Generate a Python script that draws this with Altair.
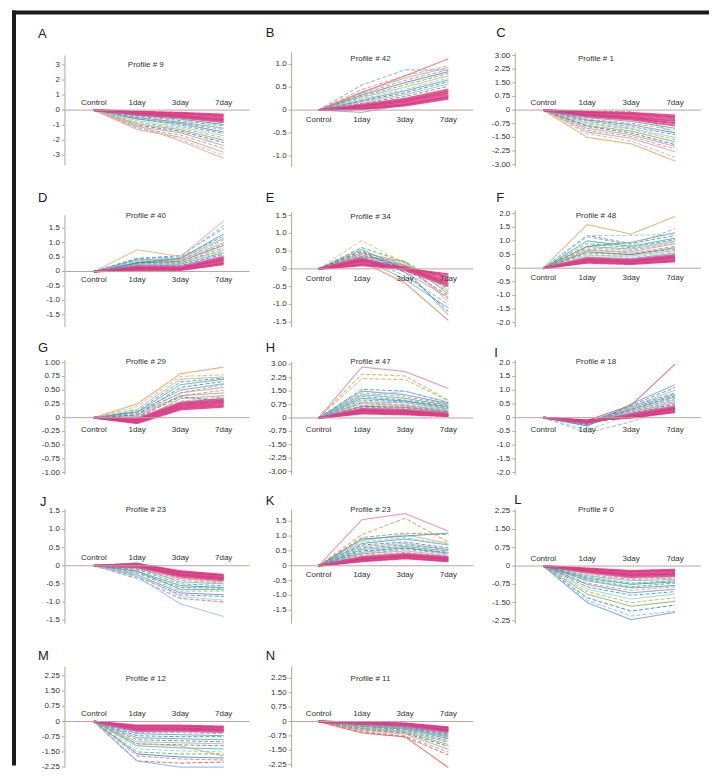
import altair as alt
import pandas as pd

FONT = "Liberation Sans"
TIMEPOINTS = ["Control", "1day", "3day", "7day"]
LETTERS = list("ABCDEFGHIJKLMN")
TITLES = ["Profile # 9", "Profile # 42", "Profile # 1", "Profile # 40", "Profile # 34",
          "Profile # 48", "Profile # 29", "Profile # 47", "Profile # 18", "Profile # 23",
          "Profile # 23", "Profile # 0", "Profile # 12", "Profile # 11"]

# log-ratio values at 1day, 3day, 7day (Control is 0 for every gene)
PROFILE_A = [
    [-0.10, -0.18, -0.30], [-0.14, -0.24, -0.40], [-0.18, -0.30, -0.50], [-0.22, -0.38, -0.60],
    [-0.26, -0.44, -0.70], [-0.30, -0.50, -0.80], [-0.35, -0.60, -0.95], [-0.40, -0.70, -1.05],
    [-0.50, -0.80, -1.20], [-0.45, -0.85, -1.30], [-0.60, -0.90, -1.45], [-0.55, -1.00, -1.55],
    [-0.70, -1.10, -1.70], [-0.80, -1.20, -1.85], [-0.90, -1.30, -2.00], [-1.00, -1.40, -2.15],
    [-1.10, -1.50, -2.35], [-1.20, -1.65, -2.55], [-1.30, -1.80, -2.80], [-1.15, -1.95, -3.00],
    [-1.00, -2.05, -3.20]]
PROFILE_B = [
    [0.02, 0.10, 0.25], [0.04, 0.13, 0.29], [0.06, 0.16, 0.33], [0.08, 0.19, 0.37],
    [0.10, 0.22, 0.41], [0.12, 0.25, 0.45], [-0.05, 0.12, 0.30], [0.15, 0.30, 0.52],
    [0.18, 0.34, 0.57], [0.20, 0.38, 0.62], [0.22, 0.42, 0.66], [0.25, 0.45, 0.70],
    [0.28, 0.50, 0.75], [0.30, 0.55, 0.80], [0.33, 0.60, 0.84], [0.36, 0.65, 0.88],
    [0.40, 0.70, 0.93], [0.45, 0.75, 0.97], [0.55, 0.88, 0.88], [0.38, 0.75, 1.12]]
PROFILE_C = [
    [-0.10, -0.15, -0.30], [-0.15, -0.22, -0.40], [-0.20, -0.30, -0.50], [-0.25, -0.38, -0.60],
    [-0.30, -0.45, -0.72], [-0.35, -0.52, -0.85], [-0.42, -0.62, -1.00], [-0.50, -0.72, -1.10],
    [-0.55, -0.80, -1.25], [-0.62, -0.90, -1.35], [-0.70, -1.00, -1.50], [-0.75, -1.05, -1.62],
    [-0.85, -1.15, -1.75], [-0.90, -1.25, -1.90], [-1.00, -1.35, -2.00], [-1.10, -1.45, -2.15],
    [-1.20, -1.55, -2.30], [-0.05, -0.10, -1.30], [-1.30, -1.70, -2.60], [-1.50, -1.85, -2.80]]
PROFILE_D = [
    [0.05, 0.05, 0.25], [0.08, 0.07, 0.30], [0.10, 0.09, 0.35], [0.12, 0.11, 0.40],
    [0.15, 0.13, 0.45], [0.18, 0.15, 0.50], [0.20, 0.20, 0.55], [0.22, 0.20, 0.60],
    [0.25, 0.25, 0.65], [0.22, 0.28, 0.70], [0.30, 0.30, 0.75], [0.28, 0.30, 0.82],
    [0.30, 0.35, 0.90], [0.35, 0.35, 0.95], [0.40, 0.40, 1.00], [0.35, 0.40, 1.10],
    [0.40, 0.45, 1.15], [0.45, 0.50, 1.22], [0.30, 0.45, 1.30], [0.45, 0.55, 1.50],
    [0.35, 0.50, 1.60], [0.75, 0.52, 1.75]]
PROFILE_E = [
    [0.10, 0.00, -0.15], [0.14, 0.03, -0.22], [0.18, 0.05, -0.30], [0.22, 0.02, -0.36],
    [0.26, 0.00, -0.42], [0.30, -0.04, -0.48], [0.25, 0.10, -0.50], [0.35, 0.10, -0.55],
    [0.30, 0.15, -0.60], [0.40, 0.10, -0.65], [0.35, 0.20, -0.70], [0.45, 0.00, -0.75],
    [0.40, -0.10, -0.80], [0.50, 0.10, -0.85], [0.45, 0.20, -0.92], [0.35, -0.20, -1.00],
    [0.30, -0.30, -1.10], [0.50, -0.10, -1.20], [0.55, 0.00, -1.30], [0.60, 0.20, -0.50],
    [0.80, 0.15, -0.60], [0.20, -0.40, -1.45]]
PROFILE_F = [
    [0.20, 0.15, 0.25], [0.24, 0.19, 0.29], [0.27, 0.22, 0.33], [0.30, 0.25, 0.38],
    [0.33, 0.28, 0.43], [0.36, 0.31, 0.48], [0.40, 0.35, 0.55], [0.50, 0.40, 0.60],
    [0.45, 0.45, 0.65], [0.55, 0.50, 0.70], [0.60, 0.50, 0.75], [0.70, 0.55, 0.80],
    [0.65, 0.60, 0.90], [0.75, 0.65, 0.95], [0.80, 0.70, 1.00], [0.90, 0.75, 1.05],
    [1.00, 0.80, 1.10], [1.20, 0.90, 1.20], [0.80, 0.95, 1.30], [1.15, 0.85, 1.45],
    [1.20, 1.20, 1.25], [1.60, 1.25, 1.90]]
PROFILE_G = [
    [-0.10, 0.15, 0.20], [-0.08, 0.18, 0.23], [-0.06, 0.20, 0.26], [-0.05, 0.22, 0.28],
    [-0.03, 0.25, 0.31], [-0.02, 0.27, 0.34], [-0.05, 0.28, 0.36], [0.00, 0.30, 0.38],
    [-0.08, 0.35, 0.40], [0.00, 0.38, 0.30], [0.02, 0.40, 0.45], [0.05, 0.40, 0.50],
    [0.05, 0.45, 0.55], [0.08, 0.45, 0.60], [0.10, 0.50, 0.62], [0.05, 0.55, 0.66],
    [0.10, 0.60, 0.70], [0.12, 0.65, 0.72], [0.15, 0.70, 0.74], [0.20, 0.75, 0.78],
    [0.25, 0.80, 0.92]]
PROFILE_H = [
    [0.25, 0.20, 0.10], [0.30, 0.25, 0.12], [0.35, 0.30, 0.15], [0.40, 0.35, 0.18],
    [0.45, 0.40, 0.21], [0.50, 0.45, 0.25], [0.55, 0.50, 0.30], [0.60, 0.55, 0.32],
    [0.65, 0.60, 0.35], [0.70, 0.65, 0.40], [0.80, 0.70, 0.42], [0.85, 0.75, 0.45],
    [0.90, 0.85, 0.50], [1.00, 0.90, 0.55], [1.10, 0.95, 0.60], [1.20, 1.00, 0.65],
    [1.30, 1.10, 0.70], [1.40, 1.20, 0.75], [1.50, 1.30, 0.80], [1.60, 1.50, 0.85],
    [1.20, 1.50, 0.90], [2.20, 2.15, 0.95], [2.45, 2.35, 1.00], [2.85, 2.60, 1.65]]
PROFILE_I = [
    [-0.10, 0.00, 0.20], [-0.12, 0.02, 0.23], [-0.14, 0.05, 0.27], [-0.16, 0.07, 0.31],
    [-0.18, 0.10, 0.35], [-0.20, 0.12, 0.40], [-0.15, 0.15, 0.45], [-0.25, 0.15, 0.50],
    [-0.20, 0.20, 0.55], [-0.10, 0.20, 0.60], [-0.25, 0.25, 0.65], [-0.15, 0.25, 0.70],
    [-0.20, 0.30, 0.75], [-0.10, 0.30, 0.80], [-0.30, 0.35, 0.85], [-0.20, 0.40, 0.90],
    [-0.15, 0.40, 1.00], [-0.25, 0.45, 1.10], [-0.30, 0.50, 1.20], [-0.45, 0.10, 0.60],
    [-0.55, -0.15, 0.40], [-0.10, 0.45, 1.95]]
PROFILE_J = [
    [0.05, -0.15, -0.25], [0.03, -0.18, -0.28], [0.02, -0.21, -0.31], [0.00, -0.24, -0.34],
    [-0.02, -0.27, -0.37], [-0.04, -0.30, -0.40], [0.08, -0.20, -0.30], [0.02, -0.35, -0.42],
    [-0.08, -0.35, -0.45], [-0.10, -0.40, -0.48], [-0.05, -0.45, -0.50], [-0.10, -0.50, -0.55],
    [-0.15, -0.55, -0.60], [-0.20, -0.60, -0.62], [-0.15, -0.65, -0.66], [-0.20, -0.70, -0.70],
    [-0.25, -0.75, -0.80], [-0.30, -0.80, -0.85], [-0.25, -0.85, -0.95], [-0.35, -0.90, -1.00],
    [-0.30, -1.05, -1.40]]
PROFILE_K = [
    [0.15, 0.25, 0.15], [0.18, 0.28, 0.18], [0.20, 0.30, 0.20], [0.23, 0.33, 0.23],
    [0.26, 0.36, 0.26], [0.29, 0.39, 0.29], [0.32, 0.42, 0.30], [0.35, 0.45, 0.32],
    [0.40, 0.50, 0.35], [0.40, 0.55, 0.40], [0.45, 0.60, 0.42], [0.50, 0.60, 0.45],
    [0.55, 0.65, 0.50], [0.60, 0.70, 0.55], [0.65, 0.75, 0.55], [0.70, 0.80, 0.60],
    [0.75, 0.90, 0.70], [0.80, 0.95, 0.72], [0.85, 1.05, 0.75], [0.95, 1.10, 1.05],
    [0.90, 1.00, 1.10], [1.05, 1.60, 0.80], [1.55, 1.76, 1.17]]
PROFILE_L = [
    [-0.10, -0.20, -0.15], [-0.13, -0.25, -0.20], [-0.16, -0.30, -0.25], [-0.19, -0.35, -0.30],
    [-0.22, -0.40, -0.35], [-0.25, -0.45, -0.40], [-0.30, -0.50, -0.45], [-0.35, -0.55, -0.50],
    [-0.40, -0.60, -0.55], [-0.45, -0.70, -0.60], [-0.50, -0.75, -0.65], [-0.55, -0.85, -0.70],
    [-0.60, -0.90, -0.80], [-0.70, -1.00, -0.85], [-0.75, -1.10, -0.95], [-0.85, -1.20, -1.05],
    [-0.95, -1.35, -1.15], [-1.05, -1.50, -1.30], [-1.15, -1.65, -1.45], [-1.30, -1.85, -1.60],
    [-1.40, -2.05, -1.85], [-1.50, -2.20, -1.90]]
PROFILE_M = [
    [-0.20, -0.20, -0.25], [-0.25, -0.25, -0.30], [-0.30, -0.30, -0.35], [-0.35, -0.35, -0.40],
    [-0.40, -0.40, -0.45], [-0.45, -0.45, -0.50], [-0.50, -0.50, -0.55], [-0.55, -0.55, -0.60],
    [-0.60, -0.65, -0.70], [-0.70, -0.75, -0.75], [-0.80, -0.85, -0.90], [-0.90, -0.95, -1.00],
    [-1.00, -1.05, -1.10], [-1.10, -1.15, -1.20], [-1.20, -1.30, -1.35], [-1.35, -1.45, -1.50],
    [-1.10, -1.20, -1.70], [-1.50, -1.60, -1.60], [-1.60, -1.75, -1.80], [-1.70, -1.85, -1.90],
    [-1.95, -2.05, -2.00], [-1.95, -2.25, -2.25]]
PROFILE_N = [
    [-0.05, -0.10, -0.30], [-0.06, -0.12, -0.35], [-0.08, -0.14, -0.40], [-0.10, -0.16, -0.45],
    [-0.11, -0.19, -0.50], [-0.12, -0.21, -0.55], [-0.12, -0.25, -0.60], [-0.15, -0.25, -0.65],
    [-0.15, -0.30, -0.70], [-0.18, -0.30, -0.75], [-0.20, -0.35, -0.80], [-0.20, -0.35, -0.85],
    [-0.25, -0.40, -0.90], [-0.25, -0.45, -1.00], [-0.30, -0.50, -1.05], [-0.30, -0.50, -1.10],
    [-0.35, -0.55, -1.20], [-0.40, -0.60, -1.30], [-0.45, -0.65, -1.45], [-0.50, -0.75, -1.60],
    [-0.55, -0.80, -1.75], [-0.60, -0.80, -2.40]]

PROFILES = [PROFILE_A, PROFILE_B, PROFILE_C, PROFILE_D, PROFILE_E, PROFILE_F, PROFILE_G,
            PROFILE_H, PROFILE_I, PROFILE_J, PROFILE_K, PROFILE_L, PROFILE_M, PROFILE_N]

# y-axis tick values and decimals of each panel
TICKS = [
    ([-3, -2, -1, 0, 1, 2, 3], 0),
    ([-1.0, -0.5, 0, 0.5, 1.0], 1),
    ([-3, -2.25, -1.5, -0.75, 0, 0.75, 1.5, 2.25, 3], 2),
    ([-1.5, -1.0, -0.5, 0, 0.5, 1.0, 1.5], 1),
    ([-1.5, -1.0, -0.5, 0, 0.5, 1.0, 1.5], 1),
    ([-2.0, -1.5, -1.0, -0.5, 0, 0.5, 1.0, 1.5, 2.0], 1),
    ([-1.0, -0.75, -0.5, -0.25, 0, 0.25, 0.5, 0.75, 1.0], 2),
    ([-3, -2.25, -1.5, -0.75, 0, 0.75, 1.5, 2.25, 3], 2),
    ([-2.0, -1.5, -1.0, -0.5, 0, 0.5, 1.0, 1.5, 2.0], 1),
    ([-1.5, -1.0, -0.5, 0, 0.5, 1.0, 1.5], 1),
    ([-1.5, -1.0, -0.5, 0, 0.5, 1.0, 1.5], 1),
    ([-2.25, -1.5, -0.75, 0, 0.75, 1.5, 2.25], 2),
    ([-2.25, -1.5, -0.75, 0, 0.75, 1.5, 2.25], 2),
    ([-2.25, -1.5, -0.75, 0, 0.75, 1.5, 2.25], 2),
]
AXIS_RANGE = [(-3.66, 3.62), (-1.25, 1.26), (-3.12, 3.13), (-1.93, 1.95), (-1.64, 1.59),
              (-2.16, 2.12), (-1.04, 1.05), (-3.2, 3.13), (-2.08, 2.1), (-1.6, 1.57),
              (-1.95, 1.89), (-2.36, 2.35), (-2.3, 2.7), (-2.5, 2.88)]

# ---------------- layout / style (not data) ----------------
ROW_TOP = [50, 208, 357, 506, 664]
ROW_H = [138, 129, 129, 138, 102]
COL_W = [185, 182, 186]
COL_C = [29, 27, 28]
COL_K = [43.33, 43.33, 44.0]
V_SPACE, H_SPACE = 20, 42
# page y of zero line, pixels per unit
YGEOM = [(107.7, 15.1), (107.7, 45.8), (107.7, 18.2), (269.3, 28.9), (266.7, 35.6),
         (266.0, 27.3), (415.7, 55.0), (416.0, 17.9), (415.7, 27.5), (564.0, 36.3),
         (564.0, 29.7), (564.3, 24.4), (720.0, 20.3), (720.0, 19.2)]
LABEL_DY = [-7, 10, -7, 9, 10, 10, 12, 12, 12, -8, 9, -7, -8, -8]
LETTER_POS = [(-27, -15), (-26, -16), (-19, -16), (-27, -8), (-26, -8), (-19, -8),
              (-27, -7), (-26, -7), (-21, -2), (-25, -2), (-26, -3), (-1, -4),
              (-27, -6), (-26, -6)]
TITLE_Y = [13, 7, 7, 6, 7, 6, 3, 3, 3, 2, 2, 2, 13, 13]

AX = "#bba59d"
BAND = ["#e5397c", "#d62f86", "#ea4a82", "#c8408f", "#e3306e", "#d94a9c"]
MID = ["#2b9e94", "#5a92d6", "#4fa85a", "#a3a8b0", "#8a6cc6", "#2ab0b0", "#8cc9ea",
       "#d9a25a", "#72b04e", "#3d7cc4", "#c97fae", "#b5a56a", "#e38a8a", "#58bfa8", "#7a8fd0"]
EDGE = [["#9cc8e0", "#f2b483"], ["#8ab4e8", "#e87a7a"], ["#9cc8e8", "#f0a860"],
        ["#9cc8e8", "#f3b58c"], ["#e6c88a", "#ec8a6a"], ["#9ad0ee", "#e0b070"],
        ["#e3b98a", "#e8a56a"], ["#b8c070", "#e88aa6"], ["#b0b0b0", "#ea6a6a"],
        ["#e87878", "#9cc8e8"], ["#e8a060", "#ee8aa8"], ["#8cc8ec", "#7aa6dc"],
        ["#e06060", "#90b8e0"], ["#e07070", "#e86a6a"]]


def tick_label(v, dec):
    return "0" if v == 0 else f"{v:.{dec}f}"


def build_panel(i):
    r, c = divmod(i, 3)
    W, H, T = COL_W[c], ROW_H[r], ROW_TOP[r]
    z, k = YGEOM[i]
    ydom = [-(T + H - z) / k, (z - T) / k]
    xdom = [-COL_C[c] / COL_K[c], (W - COL_C[c]) / COL_K[c]]
    xs = alt.Scale(domain=xdom, nice=False, zero=False)
    ys = alt.Scale(domain=ydom, nice=False, zero=False)

    prof = PROFILES[i]
    n = len(prof)
    recs, band = [], []
    for gi, vals in enumerate(prof):
        if gi < 6:
            color, dash, w = BAND[gi], "solid", 2.0
        elif gi >= n - 2:
            color = EDGE[i][gi - (n - 2)]
            dash = "dash" if gi == n - 2 else "solid"
            w = 1.1
        else:
            color = MID[(gi - 6 + i) % len(MID)]
            dash = "dash" if gi % 2 else "solid"
            w = 1.0
        target = band if gi < 6 else recs
        for t, v in enumerate([0.0] + list(vals)):
            target.append(dict(gene=gi, t=t, v=v, color=color, dash=dash, w=w))
    df = pd.DataFrame(recs + band)

    lines = alt.Chart(df).mark_line(opacity=0.88).encode(
        x=alt.X("t:Q", scale=xs, axis=None),
        y=alt.Y("v:Q", scale=ys, axis=None),
        detail="gene:N",
        color=alt.Color("color:N", scale=None),
        strokeDash=alt.StrokeDash("dash:N", scale=alt.Scale(domain=["solid", "dash"], range=[[1, 0], [4, 2]]), legend=None),
        strokeWidth=alt.StrokeWidth("w:Q", scale=None),
    )
    zero = alt.Chart(pd.DataFrame({"v": [0.0]})).mark_rule(color=AX, strokeWidth=1).encode(
        x=alt.value(0), x2=alt.value(W), y=alt.Y("v:Q", scale=ys, axis=None))
    lo, hi = AXIS_RANGE[i]
    lo = max(lo, ydom[0])
    axis_line = alt.Chart(pd.DataFrame({"lo": [lo], "hi": [hi]})).mark_rule(color=AX, strokeWidth=1).encode(
        x=alt.value(0), y=alt.Y("lo:Q", scale=ys, axis=None), y2="hi:Q")

    tvals, dec = TICKS[i]
    tdf = pd.DataFrame({"v": tvals, "label": [tick_label(v, dec) for v in tvals]})
    tick_marks = alt.Chart(tdf).mark_rule(color=AX, strokeWidth=1).encode(
        x=alt.value(-3), x2=alt.value(0), y=alt.Y("v:Q", scale=ys, axis=None))
    tick_text = alt.Chart(tdf).mark_text(
        font=FONT, fontSize=8, color="#333", align="right", baseline="middle").encode(
        x=alt.value(-5), y=alt.Y("v:Q", scale=ys, axis=None), text="label:N")

    cat = alt.Chart(pd.DataFrame({"t": [0, 1, 2, 3], "label": TIMEPOINTS, "v": [0.0] * 4})).mark_text(
        font=FONT, fontSize=8, color="#333", dy=LABEL_DY[i], baseline="middle").encode(
        x=alt.X("t:Q", scale=xs, axis=None), y=alt.Y("v:Q", scale=ys, axis=None), text="label:N")
    ttl = alt.Chart(pd.DataFrame({"t": [1.2], "label": [TITLES[i]]})).mark_text(
        font=FONT, fontSize=8, color="#333", baseline="middle").encode(
        x=alt.X("t:Q", scale=xs, axis=None), y=alt.value(TITLE_Y[i]), text="label:N")
    lx, ly = LETTER_POS[i]
    let = alt.Chart(pd.DataFrame({"label": [LETTERS[i]]})).mark_text(
        font=FONT, fontSize=13, color="#222", align="left", baseline="alphabetic").encode(
        x=alt.value(lx), y=alt.value(ly), text="label:N")
    layers = [lines, zero, axis_line, tick_marks, tick_text, cat, ttl, let]
    if i == 0:
        one = pd.DataFrame({"a": [0]})
        layers.append(alt.Chart(one).mark_rule(color="#1c1c1c", strokeWidth=4).encode(
            x=alt.value(-53), x2=alt.value(645), y=alt.value(-40)))
        layers.append(alt.Chart(one).mark_rule(color="#1c1c1c", strokeWidth=4).encode(
            x=alt.value(-51), y=alt.value(-42), y2=alt.value(714)))
    return alt.layer(*layers).properties(width=W, height=H)


panels = [build_panel(i) for i in range(14)]
chart = alt.concat(
    *panels, columns=3, spacing={"row": V_SPACE, "column": H_SPACE}, bounds="flush", align="each"
).properties(
    padding={"left": 2, "top": 0, "right": 0, "bottom": 0}
).configure_view(stroke=None)

chart.save("out.html", embed_options={"renderer": "svg", "actions": False})
